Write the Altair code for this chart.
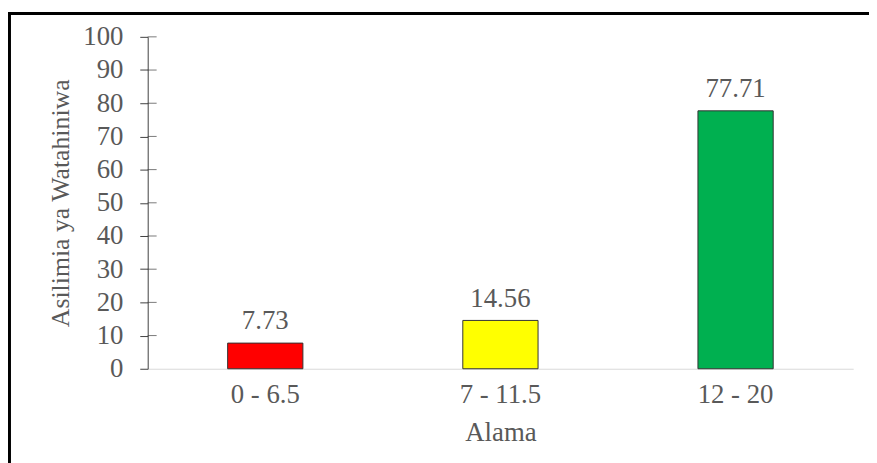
import altair as alt
import pandas as pd

categories = ["0 - 6.5", "7 - 11.5", "12 - 20"]
values = [7.73, 14.56, 77.71]
colors = ["#FF0000", "#FFFF00", "#00B050"]
y_ticks = [0, 10, 20, 30, 40, 50, 60, 70, 80, 90, 100]

df = pd.DataFrame({"Alama": categories, "Asilimia": values, "color": colors,
                   "label": [f"{v:.2f}" for v in values]})
ticks_df = pd.DataFrame({"Asilimia": y_ticks[1:]})

FONT = "Liberation Serif"
TXT = "#595959"
W, H = 712, 335

xaxis = alt.Axis(labelAngle=0, ticks=False, tickSize=0, labelPadding=34,
                 labelBaseline="alphabetic", domainColor="#d9d9d9",
                 domainWidth=1, titleY=72, titleBaseline="alphabetic",
                 labelFontSize=27, titleFontSize=27, labelOverlap=False,
                 labelFont=FONT, titleFont=FONT, labelColor=TXT,
                 titleColor=TXT, titleFontWeight="normal")
yaxis = alt.Axis(values=y_ticks, tickSize=8, tickColor="#404040",
                 domainColor="#404040", labelPadding=17, grid=False,
                 titleX=-88, titleY=H / 2, titleBaseline="middle",
                 titleAlign="center", titleAngle=270,
                 labelFontSize=27, titleFontSize=26, labelOverlap=False,
                 labelFont=FONT, titleFont=FONT, labelColor=TXT,
                 titleColor=TXT, titleFontWeight="normal")
yscale = alt.Scale(domain=[0, 100], nice=False)
xscale = alt.Scale(paddingInner=0.68, paddingOuter=0.34, round=False)

xenc = alt.X("Alama:N", sort=categories, title="Alama", scale=xscale, axis=xaxis)
yenc = alt.Y("Asilimia:Q", title="Asilimia ya Watahiniwa", scale=yscale, axis=yaxis)

bars = alt.Chart(df).mark_bar(stroke="#333333", strokeWidth=1).encode(
    x=xenc, y=yenc, color=alt.Color("color:N", scale=None))

text = alt.Chart(df).mark_text(dy=-14, baseline="alphabetic", fontSize=27,
                               font=FONT, color=TXT).encode(
    x=xenc, y=yenc, text="label:N")

inner_ticks = alt.Chart(ticks_df).mark_tick(orient="horizontal", size=9, thickness=1,
                                            color="#404040").encode(
    y=yenc, x=alt.value(4.5))

border = alt.Chart(df.head(1)).mark_rect(fill=None, stroke="black", strokeWidth=3).encode(
    x=alt.value(-139.5), x2=alt.value(W + 60), y=alt.value(-23.5), y2=alt.value(H + 150))

chart = alt.layer(bars, text, inner_ticks, border).properties(
    width=W, height=H,
    autosize=alt.AutoSizeParams(type="none"),
    padding={"left": 141, "top": 27, "right": 16, "bottom": 93},
    background="white",
).configure_view(stroke=None)

chart.save("out.html", embed_options={"renderer": "svg", "actions": False})
